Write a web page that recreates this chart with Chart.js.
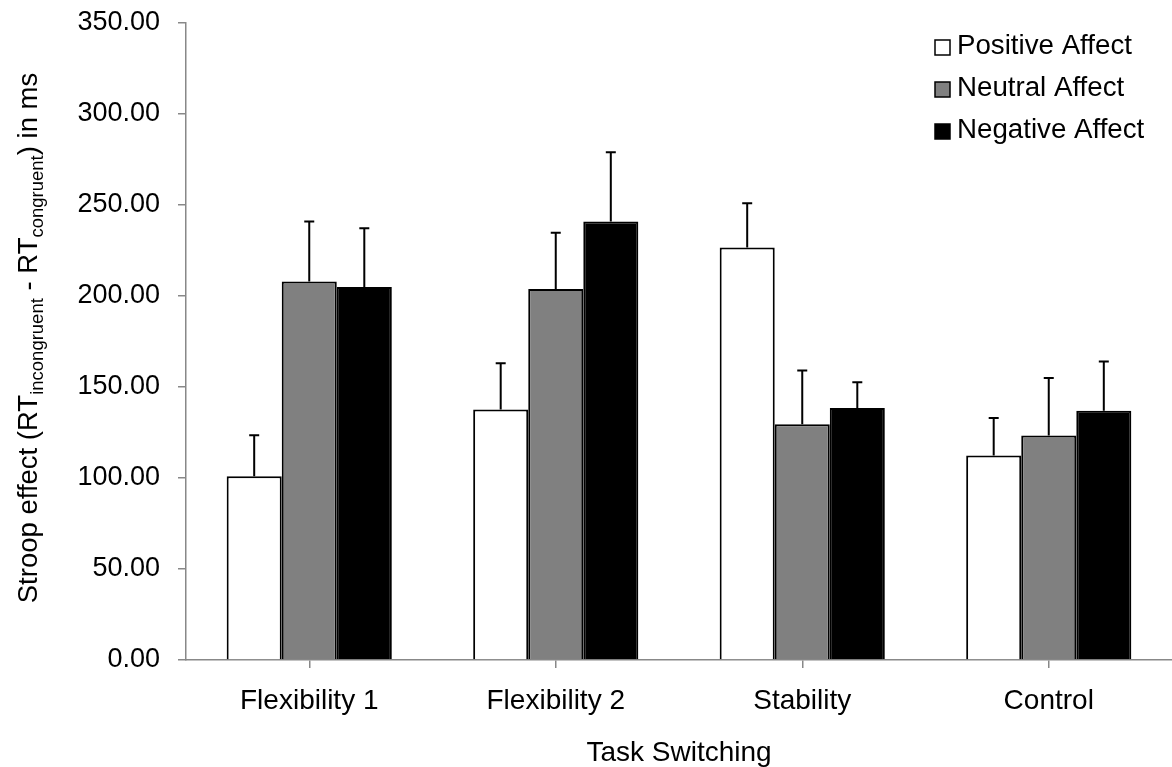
<!DOCTYPE html>
<html>
<head>
<meta charset="utf-8">
<script src="https://cdn.jsdelivr.net/npm/chart.js@4/dist/chart.umd.min.js"></script>
<style>
  html, body { margin: 0; padding: 0; background: #fff; }
  #wrap { width: 1172px; height: 767px; }
</style>
</head>
<body>
<div id="wrap"><canvas id="stroop-chart"></canvas></div>
<script>
const categories = ['Flexibility 1', 'Flexibility 2', 'Stability', 'Control'];
const seriesNames = ['Positive Affect', 'Neutral Affect', 'Negative Affect'];
const positive = [101.0, 137.7, 226.6, 112.3];
const neutral = [208.0, 203.8, 129.5, 123.3];
const negative = [205.0, 241.0, 138.5, 137.0];
const positiveErr = [22.5, 25.3, 24.4, 20.7];
const neutralErr = [33.0, 31.0, 29.5, 31.7];
const negativeErr = [32.2, 38.0, 14.1, 27.0];
const yTicks = [0, 50, 100, 150, 200, 250, 300, 350];

const FONT = "'Liberation Sans', Arial, sans-serif";
const fills = ['#ffffff', '#808080', '#000000'];
const errors = [positiveErr, neutralErr, negativeErr];

// whiskers: upper error only, with a small cap
const errorBars = {
  id: 'errorBars',
  afterDatasetsDraw(chart) {
    const {ctx, scales: {y}} = chart;
    ctx.save();
    ctx.strokeStyle = '#000';
    ctx.lineWidth = 2;
    chart.data.datasets.forEach((ds, i) => {
      chart.getDatasetMeta(i).data.forEach((bar, j) => {
        const top = y.getPixelForValue(ds.data[j] + errors[i][j]);
        ctx.beginPath();
        ctx.moveTo(bar.x, bar.y);
        ctx.lineTo(bar.x, top);
        ctx.moveTo(bar.x - 5, top);
        ctx.lineTo(bar.x + 5, top);
        ctx.stroke();
      });
    });
    ctx.restore();
  }
};

// legend inside the plot, top right
const boxLegend = {
  id: 'boxLegend',
  afterDraw(chart) {
    const {ctx} = chart;
    ctx.save();
    ctx.font = `27.7px ${FONT}`;
    ctx.textBaseline = 'middle';
    seriesNames.forEach((name, i) => {
      const cy = 46 + i * 42;
      ctx.fillStyle = fills[i];
      ctx.fillRect(935, cy - 6, 15, 15);
      ctx.strokeStyle = '#000';
      ctx.lineWidth = 1.5;
      ctx.strokeRect(935, cy - 6, 15, 15);
      ctx.fillStyle = '#000';
      ctx.fillText(name, 957, cy);
    });
    ctx.restore();
  }
};

// y title with subscripts, drawn rotated
const yTitle = {
  id: 'yTitle',
  afterDraw(chart) {
    const {ctx} = chart;
    const parts = [
      ['Stroop effect (RT', false],
      ['incongruent', true],
      [' - RT', false],
      ['congruent', true],
      [') in ms', false]
    ];
    const big = `27.5px ${FONT}`;
    const small = `18.5px ${FONT}`;
    ctx.save();
    let total = 0;
    parts.forEach(([t, sub]) => {
      ctx.font = sub ? small : big;
      total += ctx.measureText(t).width;
    });
    ctx.translate(37, 338);
    ctx.rotate(-Math.PI / 2);
    ctx.fillStyle = '#000';
    ctx.textBaseline = 'alphabetic';
    let x = -total / 2;
    parts.forEach(([t, sub]) => {
      ctx.font = sub ? small : big;
      ctx.fillText(t, x, sub ? 6 : 0);
      x += ctx.measureText(t).width;
    });
    ctx.restore();
  }
};

const makeSet = (label, data, color) => ({
  label,
  data,
  backgroundColor: color,
  borderColor: '#000',
  borderWidth: 2,
  borderSkipped: 'bottom',
  categoryPercentage: 0.67,
  barPercentage: 1.0
});

new Chart(document.getElementById('stroop-chart'), {
  type: 'bar',
  data: {
    labels: categories,
    datasets: [
      makeSet(seriesNames[0], positive, fills[0]),
      makeSet(seriesNames[1], neutral, fills[1]),
      makeSet(seriesNames[2], negative, fills[2])
    ]
  },
  options: {
    responsive: true,
    maintainAspectRatio: false,
    animation: false,
    devicePixelRatio: 1,
    layout: {padding: 0},
    scales: {
      x: {
        grid: {
          offset: false,
          drawOnChartArea: false,
          drawTicks: true,
          tickLength: 8,
          color: '#888',
          lineWidth: 1.5
        },
        border: {color: '#888', width: 1.5},
        ticks: {
          color: '#000',
          padding: 16,
          font: {family: FONT, size: 28}
        },
        title: {
          display: true,
          text: 'Task Switching',
          color: '#000',
          padding: {top: 0, bottom: -3},
          font: {family: FONT, size: 28}
        },
        afterFit(scale) { scale.height = 107; }
      },
      y: {
        min: 0,
        max: 350,
        afterBuildTicks(scale) { scale.ticks = yTicks.map((v) => ({value: v})); },
        grid: {
          drawOnChartArea: false,
          drawTicks: true,
          tickLength: 8,
          color: '#888',
          lineWidth: 1.5
        },
        border: {color: '#888', width: 1.5},
        ticks: {
          color: '#000',
          padding: 18,
          font: {family: FONT, size: 27},
          callback: (v) => Number(v).toFixed(2)
        },
        afterFit(scale) {
          scale.width = 186;
          scale.paddingTop = 23;
        }
      }
    },
    plugins: {
      legend: {display: false},
      tooltip: {enabled: false}
    }
  },
  plugins: [errorBars, boxLegend, yTitle]
});
</script>
</body>
</html>
